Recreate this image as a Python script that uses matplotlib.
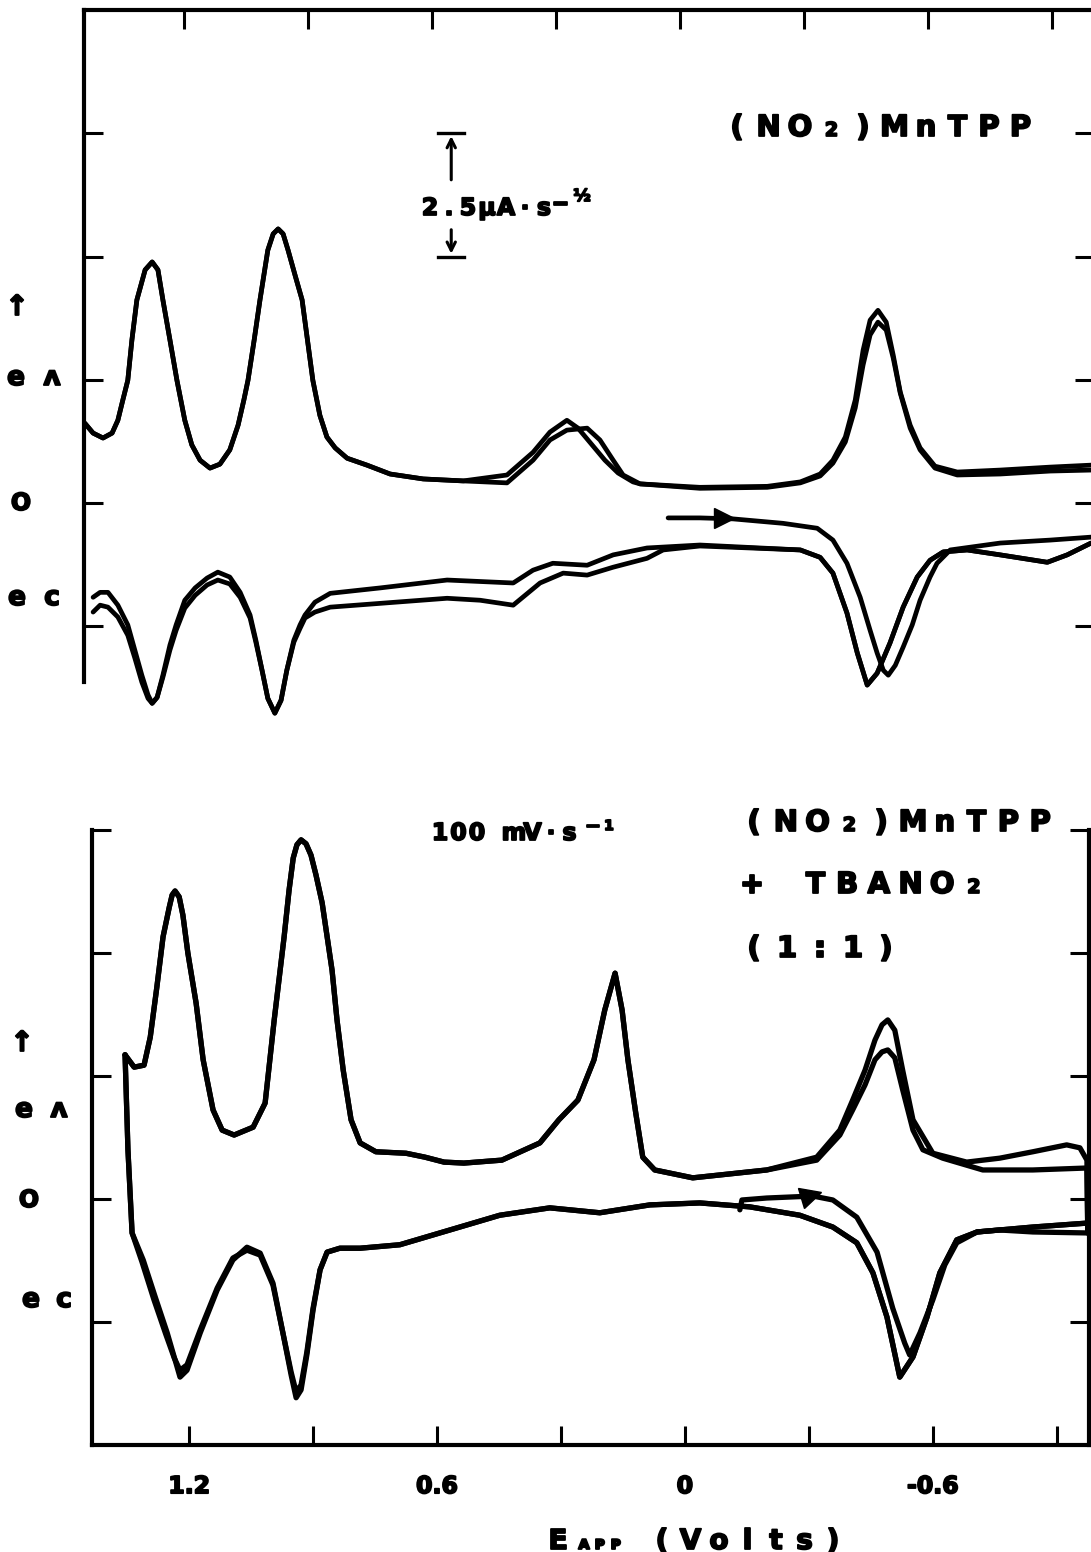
import matplotlib
matplotlib.use("Agg")
import matplotlib.pyplot as plt
import matplotlib.patheffects as pe
from matplotlib.markers import MarkerStyle
from matplotlib.transforms import Affine2D

W, H = 1091, 1552

# ---------------- upper panel: (NO2)MnTPP ----------------
# potential in V, deconvoluted current in uA s^-1/2
up_an1_E = [1.441, 1.421, 1.397, 1.375, 1.361, 1.349, 1.337, 1.327, 1.315, 1.295,
            1.278, 1.264, 1.252, 1.235, 1.218, 1.199, 1.182, 1.162, 1.138, 1.114,
            1.090, 1.070, 1.056, 1.046, 1.031, 1.017, 0.998, 0.985, 0.973, 0.961,
            0.949, 0.932, 0.915, 0.889, 0.872, 0.855, 0.835, 0.806, 0.758, 0.702,
            0.622, 0.525, 0.419, 0.356, 0.315, 0.274, 0.247, 0.213, 0.182, 0.150,
            0.114, 0.097, -0.048, -0.211, -0.291, -0.339, -0.370, -0.400, -0.424, -0.443,
            -0.460, -0.479, -0.499, -0.516, -0.533, -0.557, -0.581, -0.617, -0.671, -0.775,
            -0.896, -0.995]
up_an1_i = [1.62, 1.42, 1.32, 1.42, 1.68, 2.09, 2.49, 3.31, 4.12, 4.73,
            4.89, 4.73, 4.12, 3.31, 2.49, 1.68, 1.18, 0.87, 0.71, 0.79,
            1.08, 1.58, 2.09, 2.49, 3.31, 4.12, 5.13, 5.46, 5.56, 5.46,
            5.13, 4.62, 4.12, 2.49, 1.78, 1.34, 1.12, 0.91, 0.77, 0.59,
            0.49, 0.45, 0.57, 1.03, 1.44, 1.68, 1.52, 1.18, 0.87, 0.61,
            0.43, 0.39, 0.32, 0.34, 0.43, 0.59, 0.87, 1.34, 2.09, 3.10,
            3.71, 3.91, 3.67, 3.00, 2.25, 1.58, 1.12, 0.75, 0.63, 0.67,
            0.73, 0.77]
up_an2_E = up_an1_E[:42] + [0.419, 0.356, 0.315, 0.274, 0.225, 0.194, 0.162, 0.138, 0.097, -0.048,
                            -0.211, -0.291, -0.339, -0.370, -0.400, -0.424, -0.443, -0.460, -0.479, -0.499,
                            -0.516, -0.533, -0.557, -0.581, -0.617, -0.671, -0.775, -0.896, -0.995]
up_an2_i = up_an1_i[:42] + [0.41, 0.87, 1.28, 1.48, 1.52, 1.28, 0.87, 0.57, 0.39, 0.30,
                            0.32, 0.41, 0.55, 0.81, 1.24, 1.93, 2.80, 3.41, 3.67, 3.51,
                            2.94, 2.23, 1.52, 1.08, 0.71, 0.57, 0.59, 0.65, 0.67]

# initial cathodic sweep (starts at the arrow)
up_cat0_E = [0.029, -0.048, -0.128, -0.249, -0.332, -0.370, -0.404, -0.436, -0.460, -0.477,
             -0.492, -0.504, -0.521, -0.540, -0.562, -0.581, -0.605, -0.622, -0.654, -0.775,
             -0.896, -0.995]
up_cat0_i = [-0.30, -0.30, -0.32, -0.41, -0.51, -0.75, -1.22, -1.91, -2.58, -3.04,
             -3.39, -3.49, -3.29, -2.92, -2.47, -1.97, -1.50, -1.22, -0.95, -0.81,
             -0.75, -0.69]
up_cat1_E = [1.421, 1.404, 1.385, 1.361, 1.337, 1.320, 1.303, 1.288, 1.278, 1.266,
             1.252, 1.235, 1.220, 1.199, 1.174, 1.145, 1.119, 1.090, 1.065, 1.041,
             1.027, 1.012, 0.998, 0.981, 0.966, 0.952, 0.935, 0.920, 0.908, 0.884,
             0.847, 0.726, 0.564, 0.404, 0.356, 0.308, 0.225, 0.162, 0.080, -0.048,
             -0.291, -0.339, -0.370, -0.404, -0.429, -0.453, -0.477, -0.508, -0.540, -0.574,
             -0.605, -0.637, -0.695, -0.775, -0.889, -0.937, -0.995]
up_cat1_i = [-1.91, -1.81, -1.81, -2.07, -2.47, -2.98, -3.49, -3.89, -4.06, -3.94,
             -3.49, -2.88, -2.47, -1.97, -1.72, -1.52, -1.40, -1.50, -1.81, -2.27,
             -2.78, -3.39, -3.96, -4.26, -4.00, -3.39, -2.78, -2.47, -2.27, -2.01,
             -1.83, -1.72, -1.56, -1.62, -1.36, -1.22, -1.26, -1.05, -0.91, -0.85,
             -0.95, -1.10, -1.42, -2.23, -3.04, -3.69, -3.45, -2.84, -2.11, -1.50,
             -1.16, -0.99, -0.95, -1.05, -1.20, -1.05, -0.81]
up_cat2_E = [1.421, 1.404, 1.385, 1.361, 1.337, 1.320, 1.303, 1.288, 1.278, 1.266,
             1.252, 1.235, 1.220, 1.199, 1.174, 1.145, 1.119, 1.090, 1.065, 1.041,
             1.027, 1.012, 0.998, 0.981, 0.966, 0.952, 0.935, 0.920, 0.908, 0.884,
             0.847, 0.564, 0.484, 0.404, 0.339, 0.283, 0.225, 0.162, 0.080, 0.041,
             -0.048] + up_cat1_E[40:]
up_cat2_i = [-2.21, -2.07, -2.11, -2.31, -2.68, -3.14, -3.63, -3.96, -4.06, -3.94,
             -3.53, -2.98, -2.58, -2.13, -1.87, -1.66, -1.56, -1.64, -1.91, -2.33,
             -2.82, -3.39, -3.96, -4.26, -4.00, -3.39, -2.82, -2.54, -2.33, -2.21,
             -2.11, -1.93, -1.97, -2.07, -1.62, -1.42, -1.46, -1.30, -1.12, -0.95,
             -0.87] + up_cat1_i[40:]
up_arrow = (-0.107, -0.30)

# ---------------- lower panel: (NO2)MnTPP + TBANO2 (1:1) ----------------
lo_an1_E = [-0.975, -0.973, -0.956, -0.924, -0.842, -0.762, -0.682, -0.600, -0.552, -0.527,
            -0.508, -0.491, -0.477, -0.460, -0.436, -0.406, -0.375, -0.319, -0.198, -0.019,
            0.073, 0.102, 0.119, 0.138, 0.152, 0.169, 0.194, 0.220, 0.259, 0.305,
            0.351, 0.443, 0.535, 0.583, 0.629, 0.675, 0.748, 0.786, 0.808, 0.827,
            0.842, 0.854, 0.878, 0.893, 0.905, 0.917, 0.929, 0.939, 0.948, 0.958,
            0.970, 0.994, 1.016, 1.045, 1.091, 1.120, 1.142, 1.166, 1.183, 1.203,
            1.215, 1.224, 1.234, 1.241, 1.248, 1.263, 1.278, 1.294, 1.309, 1.333,
            1.355]
lo_an1_i = [-0.69, 0.79, 1.04, 1.10, 0.96, 0.83, 0.75, 0.93, 1.61, 2.62,
            3.43, 3.64, 3.54, 3.23, 2.62, 2.01, 1.40, 0.85, 0.59, 0.43,
            0.59, 0.85, 1.75, 2.83, 3.84, 4.59, 3.84, 2.83, 2.01, 1.61,
            1.14, 0.79, 0.73, 0.75, 0.85, 0.93, 0.96, 1.14, 1.61, 2.62,
            3.64, 4.65, 6.02, 6.59, 6.99, 7.22, 7.30, 7.20, 6.93, 6.28,
            5.33, 3.64, 1.95, 1.46, 1.30, 1.40, 1.81, 2.83, 3.98, 5.00,
            5.77, 6.14, 6.26, 6.18, 5.93, 5.33, 4.31, 3.29, 2.72, 2.68,
            2.93]
lo_an2_E = [-0.975, -0.973, -0.842, -0.721, -0.624, -0.576, -0.552, -0.527, -0.508, -0.491,
            -0.477, -0.460, -0.436, -0.406, -0.375, -0.319] + lo_an1_E[18:]
lo_an2_i = [-0.69, 0.63, 0.59, 0.59, 0.83, 1.00, 1.40, 2.22, 2.87, 3.03,
            2.99, 2.83, 2.32, 1.81, 1.30, 0.79] + lo_an1_i[18:]

lo_cat1_E = [1.355, 1.348, 1.338, 1.311, 1.282, 1.253, 1.234, 1.222, 1.205, 1.173,
             1.132, 1.094, 1.060, 1.028, 0.997, 0.973, 0.953, 0.941, 0.929, 0.915,
             0.900, 0.883, 0.866, 0.835, 0.786, 0.690, 0.569, 0.448, 0.327, 0.206,
             0.085, -0.036, -0.157, -0.278, -0.358, -0.416, -0.455, -0.489, -0.520, -0.552,
             -0.586, -0.617, -0.658, -0.707, -0.842, -0.973]
lo_cat1_i = [2.93, 1.00, -0.69, -1.24, -1.99, -2.72, -3.27, -3.62, -3.48, -2.72,
             -1.85, -1.24, -0.98, -1.10, -1.71, -2.72, -3.58, -4.04, -3.88, -3.17,
             -2.26, -1.44, -1.08, -1.00, -1.00, -0.93, -0.63, -0.33, -0.18, -0.28,
             -0.12, -0.08, -0.16, -0.33, -0.57, -0.89, -1.50, -2.40, -3.62, -3.21,
             -2.40, -1.50, -0.83, -0.67, -0.57, -0.49]
lo_cat3_E = [1.355, 1.348, 1.338, 1.314, 1.285, 1.256, 1.236, 1.222, 1.205, 1.173,
             1.132, 1.094, 1.060, 1.028, 0.997, 0.973, 0.953, 0.941, 0.929, 0.915,
             0.900, 0.883, 0.866] + lo_cat1_E[23:]
lo_cat3_i = [2.93, 1.00, -0.69, -1.28, -2.05, -2.76, -3.23, -3.48, -3.37, -2.66,
             -1.81, -1.20, -1.04, -1.14, -1.75, -2.72, -3.52, -3.92, -3.78, -3.11,
             -2.22, -1.44, -1.08] + lo_cat1_i[23:]
# initial cathodic sweep
lo_cat0_E = [-0.133, -0.138, -0.198, -0.310, -0.358, -0.416, -0.465, -0.503, -0.532, -0.544,
             -0.569, -0.600, -0.629, -0.658, -0.707, -0.762, -0.842, -0.973]
lo_cat0_i = [-0.22, -0.02, 0.02, 0.06, -0.02, -0.37, -1.08, -2.22, -2.93, -3.17,
             -2.72, -2.05, -1.34, -0.89, -0.67, -0.63, -0.67, -0.69]
lo_arrow = (-0.305, 0.08)

tick_E = [1.2, 0.9, 0.6, 0.3, 0.0, -0.3, -0.6, -0.9]
label_E = [1.2, 0.6, 0.0, -0.6]
label_txt = ["1.2", "0.6", "0", "-0.6"]
tick_i = [7.5, 5.0, 2.5, 0.0, -2.5]
scale_bar = (0.554, 5.0, 7.5)   # E position, lower and upper current (2.5 units)

fig = plt.figure(figsize=(W / 100, H / 100), dpi=100)
fat = [pe.withStroke(linewidth=1.3, foreground="black")]


def box(x0, y0, x1, y1):
    return [x0 / W, 1 - y1 / H, (x1 - x0) / W, (y1 - y0) / H]


def put(x, y, s, size, va="baseline"):
    fig.text(x / W, 1 - y / H, s, ha="center", va=va, fontsize=size,
             fontweight="bold", color="black", path_effects=fat)


def letters(x, y, s, pitch, size):
    # plotter-style lettering: one glyph per fixed pitch, pixel coords, baseline y
    for k, ch in enumerate(s):
        if ch == " ":
            continue
        if ch == "₂":
            put(x + k * pitch, y, "2", size * 0.66)
        else:
            put(x + k * pitch, y, ch, size)


def style(ax):
    for s in ax.spines.values():
        s.set_linewidth(3)
    ax.set_xticks(tick_E)
    ax.set_yticks(tick_i)
    ax.tick_params(direction="in", length=14, width=2.2, left=True, right=True,
                   labelleft=False, labelright=False)


kw = dict(color="black", lw=3.4, solid_joinstyle="round", solid_capstyle="round", clip_on=False)

# upper panel
ax1 = fig.add_axes(box(84, 10, 1094, 725))
ax1.set_xlim(1.443, -1.002)
ax1.set_ylim(-4.5, 10.0)
style(ax1)
ax1.spines["bottom"].set_visible(False)
ax1.spines["left"].set_bounds(-3.63, 10.0)
ax1.tick_params(axis="x", top=True, bottom=False, labelbottom=False, labeltop=False)
for E, i in [(up_an1_E, up_an1_i), (up_an2_E, up_an2_i), (up_cat0_E, up_cat0_i),
             (up_cat1_E, up_cat1_i), (up_cat2_E, up_cat2_i)]:
    ax1.plot(E, i, **kw)
ax1.plot(*up_arrow, marker=">", ms=15, color="black", clip_on=False)

sbE, sb_lo, sb_hi = scale_bar
ax1.plot([sbE + 0.032, sbE - 0.032], [sb_hi, sb_hi], color="black", lw=2.4)
ax1.plot([sbE + 0.032, sbE - 0.032], [sb_lo, sb_lo], color="black", lw=2.4)
ax1.annotate("", xy=(sbE, sb_hi), xytext=(sbE, sb_hi - 1.0),
             arrowprops=dict(arrowstyle="->,head_length=0.6,head_width=0.3", lw=2.2, color="black"))
ax1.annotate("", xy=(sbE, sb_lo), xytext=(sbE, sb_lo + 0.6),
             arrowprops=dict(arrowstyle="->,head_length=0.6,head_width=0.3", lw=2.2, color="black"))

# lower panel
ax2 = fig.add_axes(box(92, 830, 1089, 1445))
ax2.set_xlim(1.435, -0.978)
ax2.set_ylim(-5.0, 7.5)
style(ax2)
ax2.spines["top"].set_visible(False)
ax2.set_xticks(label_E)
ax2.set_xticks([e for e in tick_E if e not in label_E], minor=True)
ax2.set_xticklabels(label_txt, fontsize=17, fontweight="bold")
for t in ax2.get_xticklabels():
    t.set_path_effects(fat)
ax2.tick_params(axis="x", which="both", direction="in", length=14, width=2.2,
                top=False, bottom=True, pad=21)
kw2 = dict(kw, lw=3.8)
for E, i in [(lo_an1_E, lo_an1_i), (lo_an2_E, lo_an2_i), (lo_cat1_E, lo_cat1_i),
             (lo_cat3_E, lo_cat3_i), (lo_cat0_E, lo_cat0_i)]:
    ax2.plot(E, i, **kw2)
ax2.plot(*lo_arrow, marker=MarkerStyle(">", transform=Affine2D().rotate_deg(18)),
         ms=15, color="black", clip_on=False)

# legends / annotations
letters(737, 136, "(NO₂)MnTPP", 31.5, 21)
letters(754, 831, "(NO₂)MnTPP", 31.8, 21)
letters(752, 893, "+ TBANO₂", 31.7, 21)
letters(754, 957, "(1:1)", 33, 21)
letters(430, 215, "2.5μA·s", 19, 17)
put(561, 210, "−", 15)
put(582, 201, "½", 12)
letters(440, 840, "100 mV·s", 18.5, 17)
put(593, 832, "−", 14)
put(609, 830, "1", 10)

# y-axis side labels
for x, y, s, fs in [(17, 307, "↑", 20), (16, 378, "e", 19), (52, 378, "ʌ", 19),
                    (21, 503, "O", 17), (17, 598, "e", 19), (52, 598, "c", 19),
                    (22, 1043, "↑", 20), (24, 1110, "e", 19), (59, 1110, "ʌ", 19),
                    (29, 1200, "O", 17), (31, 1300, "e", 19), (64, 1300, "c", 19)]:
    put(x, y, s, fs, va="center")

# x-axis title: E_app (Volts)
put(558, 1549, "E", 20)
for k, ch in enumerate("ᴀᴘᴘ"):
    put(584 + k * 16, 1549, ch, 13)
letters(662, 1549, "(Volts)", 28.5, 20)

fig.savefig("out.png", dpi=100)
